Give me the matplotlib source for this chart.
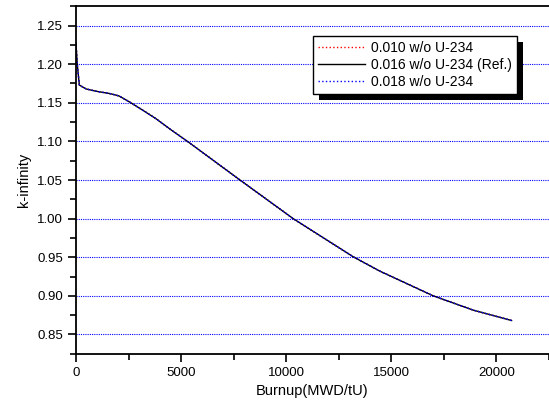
import matplotlib
matplotlib.use("Agg")
import matplotlib.pyplot as plt
from matplotlib.patches import Rectangle
from matplotlib.transforms import IdentityTransform
from matplotlib.ticker import MultipleLocator

plt.rcParams["font.family"] = ["Liberation Sans", "DejaVu Sans"]

# burnup (MWD/tU) and k-infinity
burnup = [0, 60, 160, 475, 950, 1600, 1900, 2060, 2535, 3170, 3800,
          4520, 5340, 7800, 10330, 13190, 14450, 16990, 18890, 20720]
k_010 = [1.227, 1.200, 1.173, 1.168, 1.165, 1.162, 1.160, 1.1587, 1.1513, 1.1405,
         1.1295, 1.1150, 1.0993, 1.050, 1.000, 0.9505, 0.932, 0.900, 0.8815, 0.868]
k_016 = [1.227, 1.200, 1.173, 1.168, 1.165, 1.162, 1.160, 1.1587, 1.1513, 1.1405,
         1.1295, 1.1150, 1.0993, 1.050, 1.000, 0.9505, 0.932, 0.900, 0.8815, 0.868]
k_018 = [1.227, 1.200, 1.173, 1.168, 1.165, 1.162, 1.160, 1.1587, 1.1513, 1.1405,
         1.1295, 1.1150, 1.0993, 1.050, 1.000, 0.9505, 0.932, 0.900, 0.8815, 0.868]

labels = ["0.010 w/o U-234", "0.016 w/o U-234 (Ref.)", "0.018 w/o U-234"]

fig = plt.figure(figsize=(5.49, 4.09), dpi=100)
ax = fig.add_axes([0.1384, 0.1352, 0.8616, 0.8494])

ax.plot(burnup, k_010, color="red", linestyle=":", lw=1.0, label=labels[0])
ax.plot(burnup, k_016, color="black", linestyle="-", lw=1.0, label=labels[1])
ax.plot(burnup, k_018, color="blue", linestyle=":", lw=1.0, label=labels[2])

ax.set_xlim(0, 22500)
ax.set_ylim(0.825, 1.275)
ax.xaxis.set_major_locator(MultipleLocator(5000))
ax.xaxis.set_minor_locator(MultipleLocator(2500))
ax.yaxis.set_major_locator(MultipleLocator(0.05))
ax.yaxis.set_minor_locator(MultipleLocator(0.025))
ax.yaxis.set_major_formatter(plt.FormatStrFormatter("%.2f"))

ax.grid(axis="y", which="major", color="blue", linestyle=(0, (1, 1)), lw=0.8)
ax.tick_params(which="major", direction="out", length=6, width=1.2, labelsize=9.5,
               top=False, right=False)
ax.tick_params(which="minor", direction="out", length=4, width=1.2,
               top=False, right=False)
for side in ["left", "bottom", "top"]:
    ax.spines[side].set_linewidth(1.3)
ax.spines["right"].set_visible(False)

ax.set_xlabel("Burnup(MWD/tU)", fontsize=10.5)
ax.set_ylabel("k-infinity", fontsize=10.5)

leg = ax.legend(loc="upper left", bbox_to_anchor=(0.501, 0.9145), fontsize=10,
                fancybox=False, framealpha=1, edgecolor="black",
                borderpad=0.35, handlelength=3.4, labelspacing=0.22,
                handletextpad=0.45, borderaxespad=0)
leg.get_frame().set_linewidth(1.0)
leg.set_zorder(5)

fig.canvas.draw()
bb = leg.get_window_extent()
shadow = Rectangle((bb.x0 + 6, bb.y0 - 6), bb.width, bb.height,
                   transform=IdentityTransform(), facecolor="black",
                   edgecolor="none", zorder=4)
ax.add_artist(shadow)

fig.savefig("out.png", dpi=100)
